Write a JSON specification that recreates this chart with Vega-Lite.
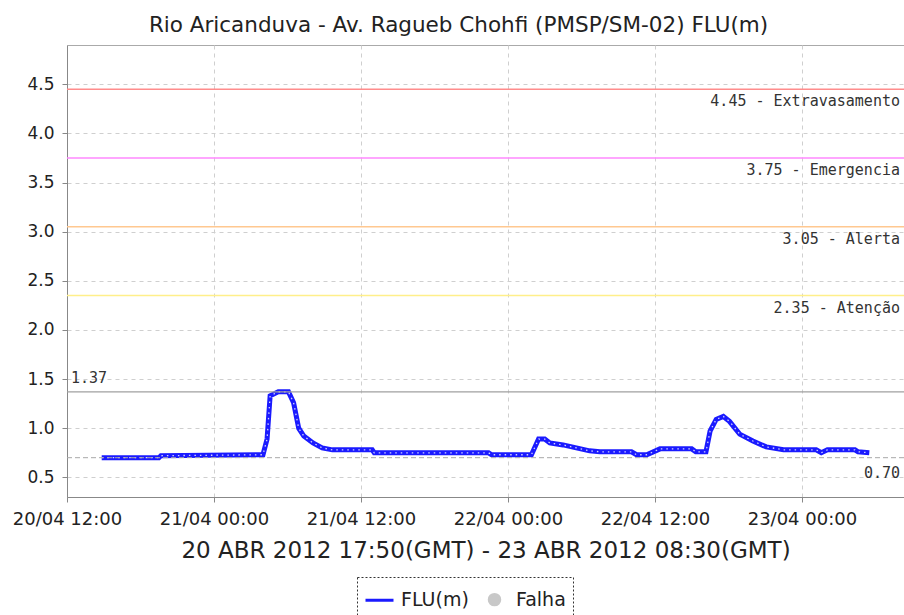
{
  "$schema": "https://vega.github.io/schema/vega-lite/v6.json",
  "autosize": {"type": "none"},
  "width": 837,
  "height": 452,
  "padding": {"left": 67, "top": 45, "right": 0, "bottom": 118},
  "background": "white",
  "title": {
    "text": "Rio Aricanduva - Av. Ragueb Chohfi (PMSP/SM-02) FLU(m)",
    "font": "DejaVu Sans",
    "fontSize": 21.5,
    "fontWeight": "normal",
    "color": "#222222",
    "anchor": "middle",
    "dx": -27,
    "offset": 9
  },
  "datasets": {
    "serie": [
      {"t": "2012-04-20T14:50:00Z", "v": 0.70, "serie": "FLU(m)"},
      {"t": "2012-04-20T19:30:00Z", "v": 0.70, "serie": "FLU(m)"},
      {"t": "2012-04-20T19:40:00Z", "v": 0.72, "serie": "FLU(m)"},
      {"t": "2012-04-21T04:00:00Z", "v": 0.73, "serie": "FLU(m)"},
      {"t": "2012-04-21T04:20:00Z", "v": 0.89, "serie": "FLU(m)"},
      {"t": "2012-04-21T04:35:00Z", "v": 1.33, "serie": "FLU(m)"},
      {"t": "2012-04-21T05:15:00Z", "v": 1.37, "serie": "FLU(m)"},
      {"t": "2012-04-21T06:05:00Z", "v": 1.37, "serie": "FLU(m)"},
      {"t": "2012-04-21T06:30:00Z", "v": 1.26, "serie": "FLU(m)"},
      {"t": "2012-04-21T06:55:00Z", "v": 1.00, "serie": "FLU(m)"},
      {"t": "2012-04-21T07:20:00Z", "v": 0.92, "serie": "FLU(m)"},
      {"t": "2012-04-21T08:05:00Z", "v": 0.85, "serie": "FLU(m)"},
      {"t": "2012-04-21T08:50:00Z", "v": 0.80, "serie": "FLU(m)"},
      {"t": "2012-04-21T09:40:00Z", "v": 0.78, "serie": "FLU(m)"},
      {"t": "2012-04-21T12:55:00Z", "v": 0.78, "serie": "FLU(m)"},
      {"t": "2012-04-21T13:05:00Z", "v": 0.75, "serie": "FLU(m)"},
      {"t": "2012-04-21T22:25:00Z", "v": 0.75, "serie": "FLU(m)"},
      {"t": "2012-04-21T22:40:00Z", "v": 0.73, "serie": "FLU(m)"},
      {"t": "2012-04-22T01:55:00Z", "v": 0.73, "serie": "FLU(m)"},
      {"t": "2012-04-22T02:30:00Z", "v": 0.89, "serie": "FLU(m)"},
      {"t": "2012-04-22T03:00:00Z", "v": 0.89, "serie": "FLU(m)"},
      {"t": "2012-04-22T03:25:00Z", "v": 0.85, "serie": "FLU(m)"},
      {"t": "2012-04-22T04:30:00Z", "v": 0.83, "serie": "FLU(m)"},
      {"t": "2012-04-22T05:35:00Z", "v": 0.80, "serie": "FLU(m)"},
      {"t": "2012-04-22T06:40:00Z", "v": 0.77, "serie": "FLU(m)"},
      {"t": "2012-04-22T07:30:00Z", "v": 0.76, "serie": "FLU(m)"},
      {"t": "2012-04-22T10:05:00Z", "v": 0.76, "serie": "FLU(m)"},
      {"t": "2012-04-22T10:30:00Z", "v": 0.73, "serie": "FLU(m)"},
      {"t": "2012-04-22T11:20:00Z", "v": 0.73, "serie": "FLU(m)"},
      {"t": "2012-04-22T12:25:00Z", "v": 0.79, "serie": "FLU(m)"},
      {"t": "2012-04-22T15:00:00Z", "v": 0.79, "serie": "FLU(m)"},
      {"t": "2012-04-22T15:20:00Z", "v": 0.76, "serie": "FLU(m)"},
      {"t": "2012-04-22T16:10:00Z", "v": 0.76, "serie": "FLU(m)"},
      {"t": "2012-04-22T16:30:00Z", "v": 0.97, "serie": "FLU(m)"},
      {"t": "2012-04-22T17:00:00Z", "v": 1.09, "serie": "FLU(m)"},
      {"t": "2012-04-22T17:35:00Z", "v": 1.12, "serie": "FLU(m)"},
      {"t": "2012-04-22T18:05:00Z", "v": 1.07, "serie": "FLU(m)"},
      {"t": "2012-04-22T18:55:00Z", "v": 0.94, "serie": "FLU(m)"},
      {"t": "2012-04-22T20:00:00Z", "v": 0.87, "serie": "FLU(m)"},
      {"t": "2012-04-22T21:05:00Z", "v": 0.81, "serie": "FLU(m)"},
      {"t": "2012-04-22T22:30:00Z", "v": 0.78, "serie": "FLU(m)"},
      {"t": "2012-04-23T01:10:00Z", "v": 0.78, "serie": "FLU(m)"},
      {"t": "2012-04-23T01:35:00Z", "v": 0.75, "serie": "FLU(m)"},
      {"t": "2012-04-23T02:05:00Z", "v": 0.78, "serie": "FLU(m)"},
      {"t": "2012-04-23T04:20:00Z", "v": 0.78, "serie": "FLU(m)"},
      {"t": "2012-04-23T04:35:00Z", "v": 0.76, "serie": "FLU(m)"},
      {"t": "2012-04-23T05:30:00Z", "v": 0.75, "serie": "FLU(m)"}
    ],
    "limites": [
      {"v": 4.45, "nivel": "Extravasamento", "rotulo": "4.45 - Extravasamento"},
      {"v": 3.75, "nivel": "Emergencia", "rotulo": "3.75 - Emergencia"},
      {"v": 3.05, "nivel": "Alerta", "rotulo": "3.05 - Alerta"},
      {"v": 2.35, "nivel": "Atenção", "rotulo": "2.35 - Atenção"}
    ],
    "extremos": [
      {"v": 1.37, "tipo": "max", "rotulo": "1.37"},
      {"v": 0.70, "tipo": "min", "rotulo": "0.70"}
    ]
  },
  "layer": [
    {
      "data": {"name": "serie"},
      "mark": {"type": "line", "strokeWidth": 5, "interpolate": "linear"},
      "encoding": {
        "x": {
          "field": "t",
          "type": "temporal",
          "scale": {
            "type": "utc",
            "domain": [
              {"year": 2012, "month": 4, "date": 20, "hours": 12, "utc": true},
              {"year": 2012, "month": 4, "date": 23, "hours": 8, "minutes": 20, "utc": true}
            ],
            "nice": false
          },
          "axis": {
            "title": "20 ABR 2012 17:50(GMT) - 23 ABR 2012 08:30(GMT)",
            "format": "%d/%m %H:%M",
            "values": [
              {"year": 2012, "month": 4, "date": 20, "hours": 12, "utc": true},
              {"year": 2012, "month": 4, "date": 21, "hours": 0, "utc": true},
              {"year": 2012, "month": 4, "date": 21, "hours": 12, "utc": true},
              {"year": 2012, "month": 4, "date": 22, "hours": 0, "utc": true},
              {"year": 2012, "month": 4, "date": 22, "hours": 12, "utc": true},
              {"year": 2012, "month": 4, "date": 23, "hours": 0, "utc": true}
            ],
            "labelFontSize": 18,
            "labelFont": "DejaVu Sans",
            "labelColor": "#222222",
            "labelPadding": 8,
            "labelOverlap": false,
            "labelFlush": false,
            "titleFont": "DejaVu Sans",
            "titleFontSize": 23,
            "titleFontWeight": "normal",
            "titleColor": "#222222",
            "titlePadding": 11
          }
        },
        "y": {
          "field": "v",
          "type": "quantitative",
          "scale": {"domain": [0.3, 4.9], "nice": false, "zero": false},
          "axis": {
            "title": null,
            "values": [0.5, 1.0, 1.5, 2.0, 2.5, 3.0, 3.5, 4.0, 4.5],
            "format": ".1f",
            "labelFontSize": 17,
            "labelFont": "DejaVu Sans",
            "labelColor": "#222222",
            "labelPadding": 8
          }
        },
        "color": {
          "field": "serie",
          "type": "nominal",
          "scale": {"domain": ["FLU(m)", "Falha"], "range": ["#1a1aff", "#c8c8c8"]},
          "legend": {
            "orient": "none",
            "legendX": 290,
            "legendY": 532,
            "direction": "horizontal",
            "title": null,
            "labelFontSize": 19,
            "labelFont": "DejaVu Sans",
            "labelColor": "#222222",
            "labelOffset": 6,
            "columnPadding": 10,
            "symbolType": "stroke",
            "symbolSize": 784,
            "symbolStrokeWidth": 3,
            "padding": 7,
            "strokeColor": "#333333",
            "fillColor": "white",
            "encode": {
              "legend": {"update": {"strokeDash": {"value": [2, 2]}}},
              "symbols": {
                "update": {
                  "shape": {"signal": "datum.value === 'Falha' ? 'circle' : 'stroke'"},
                  "size": {"signal": "datum.value === 'Falha' ? 110 : 784"},
                  "fill": {"signal": "datum.value === 'Falha' ? '#c8c8c8' : 'transparent'"},
                  "stroke": {"signal": "datum.value === 'Falha' ? '#c8c8c8' : '#1a1aff'"}
                }
              }
            }
          }
        }
      }
    },
    {
      "data": {"name": "serie"},
      "mark": {"type": "line", "strokeWidth": 1.3, "color": "white", "strokeDash": [1.5, 4], "opacity": 0.8},
      "encoding": {
        "x": {"field": "t", "type": "temporal"},
        "y": {"field": "v", "type": "quantitative"}
      }
    },
    {
      "data": {"name": "limites"},
      "mark": {"type": "rule", "strokeWidth": 1.5},
      "encoding": {
        "y": {"field": "v", "type": "quantitative"},
        "stroke": {
          "field": "nivel",
          "type": "nominal",
          "scale": {
            "domain": ["Extravasamento", "Emergencia", "Alerta", "Atenção"],
            "range": ["#ff8c8c", "#ff88ff", "#ffc890", "#ffef8a"]
          },
          "legend": null
        }
      }
    },
    {
      "data": {"name": "limites"},
      "mark": {"type": "text", "align": "right", "baseline": "top", "dx": -4, "dy": 5, "font": "DejaVu Sans Mono", "fontSize": 15, "color": "#333333"},
      "encoding": {
        "x": {"datum": {"year": 2012, "month": 4, "date": 23, "hours": 8, "minutes": 20, "utc": true}, "type": "temporal"},
        "y": {"field": "v", "type": "quantitative"},
        "text": {"field": "rotulo"}
      }
    },
    {
      "data": {"name": "extremos"},
      "transform": [{"filter": "datum.tipo === 'max'"}],
      "mark": {"type": "rule", "strokeWidth": 1.2, "color": "#a0a0a0"},
      "encoding": {
        "y": {"field": "v", "type": "quantitative"}
      }
    },
    {
      "data": {"name": "extremos"},
      "transform": [{"filter": "datum.tipo === 'min'"}],
      "mark": {"type": "rule", "strokeWidth": 1, "color": "#a8a8a8", "strokeDash": [5, 3]},
      "encoding": {
        "y": {"field": "v", "type": "quantitative"}
      }
    },
    {
      "data": {"name": "extremos"},
      "transform": [{"filter": "datum.tipo === 'max'"}],
      "mark": {"type": "text", "align": "left", "baseline": "bottom", "dx": 4, "dy": -6, "font": "DejaVu Sans Mono", "fontSize": 15, "color": "#333333"},
      "encoding": {
        "x": {"datum": {"year": 2012, "month": 4, "date": 20, "hours": 12, "utc": true}, "type": "temporal"},
        "y": {"field": "v", "type": "quantitative"},
        "text": {"field": "rotulo"}
      }
    },
    {
      "data": {"name": "extremos"},
      "transform": [{"filter": "datum.tipo === 'min'"}],
      "mark": {"type": "text", "align": "right", "baseline": "top", "dx": -4, "dy": 8, "font": "DejaVu Sans Mono", "fontSize": 15, "color": "#333333"},
      "encoding": {
        "x": {"datum": {"year": 2012, "month": 4, "date": 23, "hours": 8, "minutes": 20, "utc": true}, "type": "temporal"},
        "y": {"field": "v", "type": "quantitative"},
        "text": {"field": "rotulo"}
      }
    }
  ],
  "config": {
    "view": {"stroke": "#aaaaaa", "strokeWidth": 1},
    "axis": {
      "domainColor": "#888888",
      "tickColor": "#888888",
      "tickSize": 5,
      "gridColor": "#cfcfcf",
      "gridDash": [4, 4],
      "gridWidth": 1
    }
  }
}
